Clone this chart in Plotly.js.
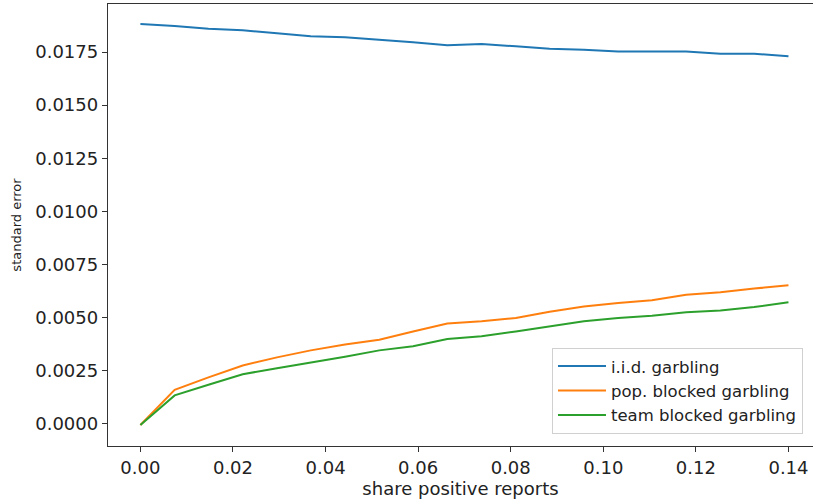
<!DOCTYPE html>
<html>
<head>
<meta charset="utf-8">
<script src="https://cdn.plot.ly/plotly-3.0.1.min.js"></script>
<style>html,body{margin:0;padding:0;background:#fff;}#chart{width:813px;height:504px;}</style>
</head>
<body>
<div id="chart"></div>
<script>
// share positive reports (20 evenly spaced points from 0 to 0.14)
var shareX = [0.0000, 0.0074, 0.0147, 0.0221, 0.0295, 0.0368, 0.0442, 0.0516, 0.0589, 0.0663,
              0.0737, 0.0811, 0.0884, 0.0958, 0.1032, 0.1105, 0.1179, 0.1253, 0.1326, 0.1400];

var iidGarbling = [0.01882, 0.01873, 0.01859, 0.01852, 0.01838, 0.01824, 0.01819, 0.01808, 0.01796, 0.01782,
                   0.01788, 0.01777, 0.01766, 0.01761, 0.01753, 0.01753, 0.01752, 0.01742, 0.01742, 0.01730];

var popBlocked = [-0.00005, 0.00160, 0.00219, 0.00275, 0.00313, 0.00346, 0.00374, 0.00396, 0.00435, 0.00472,
                  0.00483, 0.00498, 0.00528, 0.00553, 0.00569, 0.00582, 0.00608, 0.00619, 0.00637, 0.00652];

var teamBlocked = [-0.00005, 0.00134, 0.00184, 0.00234, 0.00262, 0.00288, 0.00316, 0.00346, 0.00365, 0.00400,
                   0.00412, 0.00435, 0.00459, 0.00483, 0.00498, 0.00509, 0.00525, 0.00534, 0.00550, 0.00572];

var seriesNames = ["i.i.d. garbling", "pop. blocked garbling", "team blocked garbling"];
var seriesColors = ["#1f77b4", "#ff7f0e", "#2ca02c"];
var seriesValues = [iidGarbling, popBlocked, teamBlocked];

var traces = seriesValues.map(function (vals, i) {
  return {
    x: shareX, y: vals, type: "scatter", mode: "lines",
    name: seriesNames[i],
    line: { color: seriesColors[i], width: 2 }
  };
});

var tickFont = { family: "DejaVu Sans", size: 18, color: "#222" };

var layout = {
  width: 813, height: 504,
  margin: { l: 108, r: 0, t: 4, b: 58, pad: 0 },
  paper_bgcolor: "#fff", plot_bgcolor: "#fff",
  showlegend: true,
  legend: {
    x: 0.9858, xanchor: "right", y: 0.0275, yanchor: "bottom",
    bgcolor: "#fff", bordercolor: "#d0d0d0", borderwidth: 1,
    font: { family: "DejaVu Sans", size: 16.5, color: "#222" },
    itemwidth: 48,
    tracegroupgap: 0
  },
  xaxis: {
    range: [-0.007, 0.1453],
    tick0: 0, dtick: 0.02, tickformat: ".2f",
    showgrid: false, zeroline: false,
    showline: true, mirror: true, linecolor: "#333", linewidth: 1.2,
    ticks: "outside", ticklen: 5, tickcolor: "#333", tickwidth: 1,
    tickfont: tickFont,
    title: { text: "share positive reports", font: { family: "DejaVu Sans", size: 18, color: "#222" }, standoff: 4 }
  },
  yaxis: {
    range: [-0.00104, 0.01976],
    tick0: 0, dtick: 0.0025, tickformat: ".4f",
    showgrid: false, zeroline: false,
    showline: true, mirror: false, linecolor: "#333", linewidth: 1.2,
    ticks: "outside", ticklen: 5, tickcolor: "#333", tickwidth: 1,
    tickfont: tickFont,
    title: { text: "standard error", font: { family: "DejaVu Sans", size: 13, color: "#222" }, standoff: 10 }
  }
};

Plotly.newPlot("chart", traces, layout, { displayModeBar: false, staticPlot: true });
</script>
</body>
</html>
